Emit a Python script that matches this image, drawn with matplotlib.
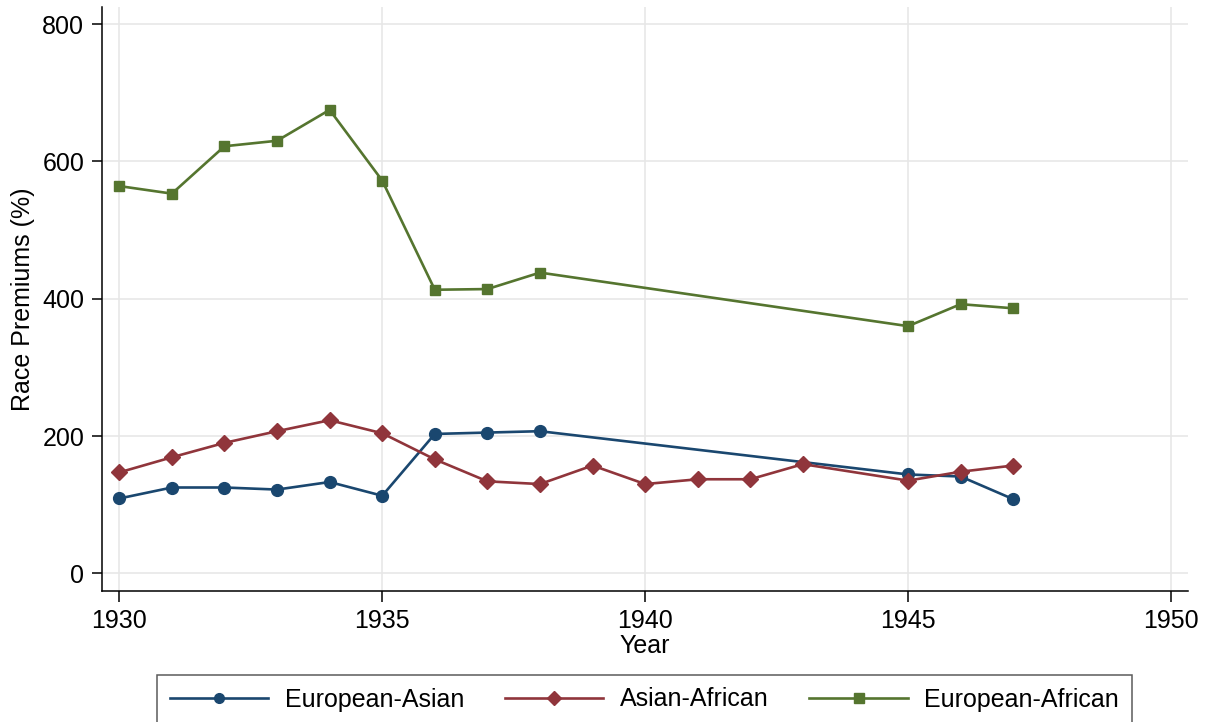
import matplotlib
matplotlib.use("Agg")
import matplotlib.pyplot as plt
from matplotlib.lines import Line2D

plt.rcParams['font.family'] = ['Liberation Sans', 'DejaVu Sans']

years_ea = [1930, 1931, 1932, 1933, 1934, 1935, 1936, 1937, 1938, 1945, 1946, 1947]
euro_asian = [109, 125, 125, 122, 133, 113, 203, 205, 207, 144, 141, 108]

years_aa = [1930, 1931, 1932, 1933, 1934, 1935, 1936, 1937, 1938, 1939, 1940, 1941, 1942, 1943, 1945, 1946, 1947]
asian_african = [147, 169, 190, 207, 223, 204, 166, 134, 130, 157, 130, 137, 137, 159, 135, 148, 157]

years_ef = [1930, 1931, 1932, 1933, 1934, 1935, 1936, 1937, 1938, 1945, 1946, 1947]
euro_african = [564, 553, 622, 630, 675, 572, 413, 414, 438, 360, 392, 386]

x_ticks = [1930, 1935, 1940, 1945, 1950]
y_ticks = [0, 200, 400, 600, 800]
labels = ["European-Asian", "Asian-African", "European-African"]

c_blue = "#1a476f"
c_red = "#90353b"
c_green = "#55752f"

fig = plt.figure(figsize=(12.10, 7.22), dpi=100)
ax = fig.add_axes([102.3/1210, 1-590.7/722, (1188-102.3)/1210, (590.7-7)/722])

ax.plot(years_ea, euro_asian, color=c_blue, lw=1.9, marker='o', ms=8.5)
ax.plot(years_aa, asian_african, color=c_red, lw=1.9, marker='D', ms=8)
ax.plot(years_ef, euro_african, color=c_green, lw=1.9, marker='s', ms=7.5)

ax.set_xlim(1929.677, 1950.323)
ax.set_ylim(-25.3, 824.8)
ax.set_xticks(x_ticks)
ax.set_yticks(y_ticks)
ax.grid(True, color="#e6e6e6", lw=1.1)
ax.set_axisbelow(True)
for s in ['top', 'right']:
    ax.spines[s].set_visible(False)
for s in ['left', 'bottom']:
    ax.spines[s].set_color('black')
    ax.spines[s].set_linewidth(1.1)
ax.tick_params(axis='both', labelsize=18, direction='out', color='black', width=1.1)
ax.tick_params(axis='y', length=7, pad=6)
ax.tick_params(axis='x', length=8, pad=5)
ax.set_xlabel("Year", fontsize=18, labelpad=1)
ax.set_ylabel("Race Premiums (%)", fontsize=18, labelpad=5)

handles = [
    Line2D([], [], color=c_blue, lw=1.9, marker='o', ms=7),
    Line2D([], [], color=c_red, lw=1.9, marker='D', ms=7),
    Line2D([], [], color=c_green, lw=1.9, marker='s', ms=6.5),
]
leg = fig.legend(handles, labels, loc='upper left', bbox_to_anchor=(157/1210, 1-675/722),
                 ncol=3, fontsize=18, frameon=True, fancybox=False, edgecolor='#333333',
                 handlelength=3.95, handletextpad=0.66, columnspacing=1.62,
                 borderpad=0.5, borderaxespad=0)
leg.get_frame().set_linewidth(1.1)

fig.savefig("out.png", dpi=100)
